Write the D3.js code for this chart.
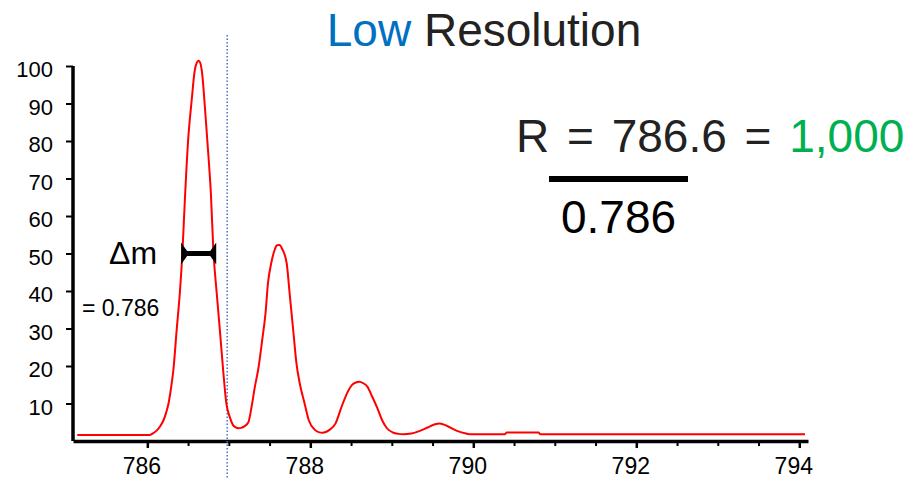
<!DOCTYPE html>
<html>
<head>
<meta charset="utf-8">
<script src="https://cdn.jsdelivr.net/npm/d3@7"></script>
<style>
    body { margin: 0; background: #fff; }
    svg text { font-family: Arial, "Liberation Sans", sans-serif; }
    .axis path, .axis line { stroke: #000; }
    .axis text { fill: #000; }
</style>
</head>
<body>
<div id="chart"></div>
<script>
// m/z positions of the trace
var mz = [
    785.14, 786.03, 786.08, 786.12, 786.16, 786.20, 786.23, 786.26, 786.29, 786.32,
    786.36, 786.40, 786.43, 786.46, 786.50, 786.545, 786.58, 786.61, 786.63, 786.65,
    786.67, 786.71, 786.75, 786.78, 786.81, 786.85, 786.89, 786.93, 786.97, 787.01,
    787.05, 787.08, 787.12, 787.15, 787.19, 787.24, 787.28, 787.32, 787.36, 787.41,
    787.45, 787.48, 787.52, 787.56, 787.59, 787.62, 787.66, 787.71, 787.75, 787.79,
    787.83, 787.87, 787.93, 787.98, 788.06, 788.11, 788.15, 788.19, 788.23, 788.31,
    788.38, 788.45, 788.51, 788.56, 788.60, 788.65, 788.70, 788.76, 788.82, 788.88,
    788.94, 789.02, 789.08, 789.14, 789.24, 789.32, 789.44, 789.52, 789.59, 789.68,
    789.80, 789.91, 789.97, 790.39, 790.41, 790.80, 790.82, 794.07
];
// relative intensity at each m/z
var intensity = [
    1.6, 1.6, 2.2, 2.9, 4.0, 5.6, 7.5, 10, 14, 19,
    29.6, 39.8, 50, 64, 80, 91, 98.5, 101, 101.4, 100.8,
    98.5, 88, 76, 66, 51, 39.8, 29.6, 19, 10, 6.5,
    4.3, 3.7, 3.4, 3.5, 3.9, 5.0, 9.2, 14.5, 19, 27,
    34, 42, 47.4, 50.8, 52.2, 52.3, 51, 47.4, 38.5, 29.6,
    20.7, 15.4, 10, 5.6, 2.9, 2.3, 2.2, 2.4, 2.9, 4.7,
    8.9, 12.7, 14.9, 15.6, 15.8, 15.4, 14.5, 11.8, 8.9, 5.6,
    3.4, 2.2, 1.9, 1.8, 2.0, 2.5, 3.6, 4.4, 4.7, 4.0,
    2.7, 2.0, 1.8, 1.8, 2.3, 2.3, 1.8, 1.8
];

var xMajorTicks = [786, 788, 790, 792, 794];
var xMinorTicks = [786.5, 787, 787.5, 788.5, 789, 789.5, 790.5, 791, 791.5, 792.5, 793, 793.5];
var yTicks = [10, 20, 30, 40, 50, 60, 70, 80, 90, 100];

var markerMz = 786.98;            // dotted vertical guide
var deltaM = [786.43, 786.83];    // width arrow span
var deltaLevel = 50;

var outerWidth = 908, outerHeight = 478;
var margin = {top: 66, right: 100, bottom: 37, left: 73};
var width = outerWidth - margin.left - margin.right;
var height = outerHeight - margin.top - margin.bottom;

var root = d3.select("#chart")
    .append("svg")
    .attr("width", outerWidth)
    .attr("height", outerHeight);

var svg = root.append("g")
    .attr("transform", "translate(" + margin.left + "," + margin.top + ")");

var xScale = d3.scaleLinear()
    .domain([785.088, 794.107])
    .range([0, width]);

var yScale = d3.scaleLinear()
    .domain([0, 100])
    .range([height, 0]);

// Minor x ticks
svg.append("g")
    .attr("class", "axis")
    .attr("transform", "translate(0," + height + ")")
    .call(d3.axisBottom(xScale)
          .tickValues(xMinorTicks)
          .tickSize(5)
          .tickSizeOuter(0)
          .tickFormat(""))
    .call(g => g.select(".domain").remove())
    .selectAll("line").attr("stroke-width", 2);

// X axis
var xAxis = svg.append("g")
    .attr("class", "x axis")
    .attr("transform", "translate(0," + height + ")")
    .call(d3.axisBottom(xScale)
          .tickValues(xMajorTicks)
          .tickSize(7)
          .tickSizeOuter(0)
          .tickPadding(10)
          .tickFormat(d3.format("d")));
xAxis.select(".domain").attr("stroke-width", 3.5);
xAxis.selectAll("line").attr("stroke-width", 2.5);
xAxis.selectAll("text")
    .style("font-size", "23px")
    .attr("dx", "-6px");

// Y axis
var yAxis = svg.append("g")
    .attr("class", "y axis")
    .call(d3.axisLeft(yScale)
          .tickValues(yTicks)
          .tickSize(7)
          .tickSizeOuter(0)
          .tickPadding(13));
yAxis.select(".domain").attr("stroke-width", 3.5);
yAxis.selectAll("line").attr("stroke-width", 2);
yAxis.selectAll("text")
    .style("font-size", "22px")
    .attr("dy", "0.48em");
yAxis.select(".domain").attr("d", "M0," + yScale(100) + "V" + height);

// Dotted guide
svg.append("line")
    .attr("x1", xScale(markerMz))
    .attr("x2", xScale(markerMz))
    .attr("y1", 35 - margin.top)
    .attr("y2", outerHeight - margin.top)
    .attr("stroke", "#4472C4")
    .attr("stroke-width", 1.5)
    .attr("stroke-dasharray", "1.5,2");

// Spectrum trace
var trace = d3.line()
    .x((d, i) => xScale(mz[i]))
    .y(d => yScale(d))
    .curve(d3.curveMonotoneX);

svg.append("path")
    .datum(intensity)
    .attr("fill", "none")
    .attr("stroke", "#FF0000")
    .attr("stroke-width", 2)
    .attr("d", trace);

// Delta m arrow
var ay = yScale(deltaLevel);
var ax0 = xScale(deltaM[0]), ax1 = xScale(deltaM[1]);
svg.append("line")
    .attr("x1", ax0).attr("x2", ax1)
    .attr("y1", ay).attr("y2", ay)
    .attr("stroke", "#000")
    .attr("stroke-width", 5);
[ax0, ax1].forEach(function(x, i) {
    var dir = i == 0 ? 1 : -1;
    svg.append("path")
        .attr("d", "M" + x + "," + (ay - 7) + "L" + (x + dir * 5) + "," + ay + "L" + x + "," + (ay + 7) + "Z")
        .attr("fill", "#000")
        .attr("stroke", "#000")
        .attr("stroke-width", 2.5);
});

root.append("text")
    .attr("x", 109)
    .attr("y", 264)
    .style("font-size", "32px")
    .attr("fill", "#000")
    .text("\u0394m");

root.append("text")
    .attr("x", 82)
    .attr("y", 316)
    .style("font-size", "23px")
    .attr("fill", "#000")
    .text("= 0.786");

// Title
var title = root.append("text")
    .attr("x", 484)
    .attr("y", 46)
    .attr("text-anchor", "middle")
    .style("font-size", "46px");
title.append("tspan").attr("fill", "#0070C0").text("Low");
title.append("tspan").attr("fill", "#222").text(" Resolution");

// Resolution formula
var formula = root.append("text")
    .attr("x", 516)
    .attr("y", 152)
    .style("font-size", "46px")
    .style("word-spacing", "5px");
formula.append("tspan").attr("fill", "#222").text("R = 786.6 = ");
formula.append("tspan").attr("fill", "#00B050").text("1,000");

root.append("line")
    .attr("x1", 549).attr("x2", 688)
    .attr("y1", 179).attr("y2", 179)
    .attr("stroke", "#000")
    .attr("stroke-width", 6);

root.append("text")
    .attr("x", 561)
    .attr("y", 233)
    .style("font-size", "46px")
    .attr("fill", "#000")
    .text("0.786");
</script>
</body>
</html>
